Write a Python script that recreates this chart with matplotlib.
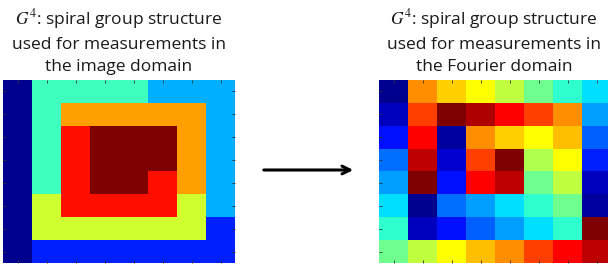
import matplotlib
matplotlib.use("Agg")
import matplotlib.pyplot as plt
from matplotlib.colors import ListedColormap
import numpy as np

plt.rcParams['mathtext.fontset'] = 'stix'

# spiral group labels (1..8) in the image domain, 8x8 grid
image_groups = [
    [1, 4, 4, 4, 4, 3, 3, 3],
    [1, 4, 6, 6, 6, 6, 6, 3],
    [1, 4, 7, 8, 8, 8, 6, 3],
    [1, 4, 7, 8, 8, 8, 6, 3],
    [1, 4, 7, 8, 8, 7, 6, 3],
    [1, 5, 7, 7, 7, 7, 5, 3],
    [1, 5, 5, 5, 5, 5, 5, 2],
    [1, 2, 2, 2, 2, 2, 2, 2],
]

# values (jet scale 0..1)
fourier_vals = [
    [0.01, 0.725, 0.67, 0.615, 0.55, 0.475, 0.41, 0.34],
    [0.055, 0.80, 1.00, 0.94, 0.86, 0.80, 0.73, 0.275],
    [0.135, 0.87, 0.02, 0.725, 0.67, 0.62, 0.675, 0.21],
    [0.225, 0.93, 0.07, 0.80, 1.00, 0.54, 0.615, 0.15],
    [0.275, 0.99, 0.13, 0.87, 0.93, 0.48, 0.55, 0.055],
    [0.34, 0.01, 0.225, 0.275, 0.34, 0.41, 0.475, 0.02],
    [0.41, 0.055, 0.135, 0.21, 0.275, 0.34, 0.42, 0.99],
    [0.48, 0.55, 0.62, 0.675, 0.73, 0.80, 0.87, 0.93],
]

left_title = "$G^4$: spiral group structure\nused for measurements in\nthe image domain"
right_title = "$G^4$: spiral group structure\nused for measurements in\nthe Fourier domain"

# MATLAB style jet(64)
i = np.arange(1, 65)
red = np.interp(i, [1, 24, 40, 56, 64], [0, 0, 1, 1, 0.5])
green = np.interp(i, [1, 8, 24, 40, 56, 64], [0, 0, 1, 1, 0, 0])
blue = np.interp(i, [1, 8, 24, 40, 64], [0.5625, 1, 1, 0, 0])
jet = ListedColormap(np.column_stack([red, green, blue]))

W, H = 608, 267
fig = plt.figure(figsize=(W / 100, H / 100), dpi=100)

ax1 = fig.add_axes([3 / W, 4 / H, 232 / W, 183 / H])
ax2 = fig.add_axes([379 / W, 4 / H, 232 / W, 183 / H])

ax1.imshow(np.array(image_groups), cmap=jet, vmin=1, vmax=8,
           aspect='auto', interpolation='nearest')
ax2.imshow(np.array(fourier_vals), cmap=jet, vmin=0, vmax=1,
           aspect='auto', interpolation='nearest')

for ax in (ax1, ax2):
    ax.set_xticks(range(8))
    ax.set_yticks(range(8))
    ax.tick_params(direction='in', length=2.5, width=0.6, color='#333333',
                   top=True, right=True, labelbottom=False, labelleft=False)
    for s in ax.spines.values():
        s.set_visible(False)

fig.text(119 / W, 1 - 7 / H, left_title, ha='center', va='top',
         fontsize=12.5, family='Open Sans', color='#1a1a1a', linespacing=1.5)
fig.text(494 / W, 1 - 7 / H, right_title, ha='center', va='top',
         fontsize=12.5, family='Open Sans', color='#1a1a1a', linespacing=1.5)

fig.patches.append(matplotlib.patches.FancyArrowPatch(
    (261 / W, 1 - 170 / H), (356 / W, 1 - 170 / H),
    transform=fig.transFigure, arrowstyle='->', mutation_scale=14,
    lw=2.2, color='black'))

fig.savefig("out.png", dpi=100)
